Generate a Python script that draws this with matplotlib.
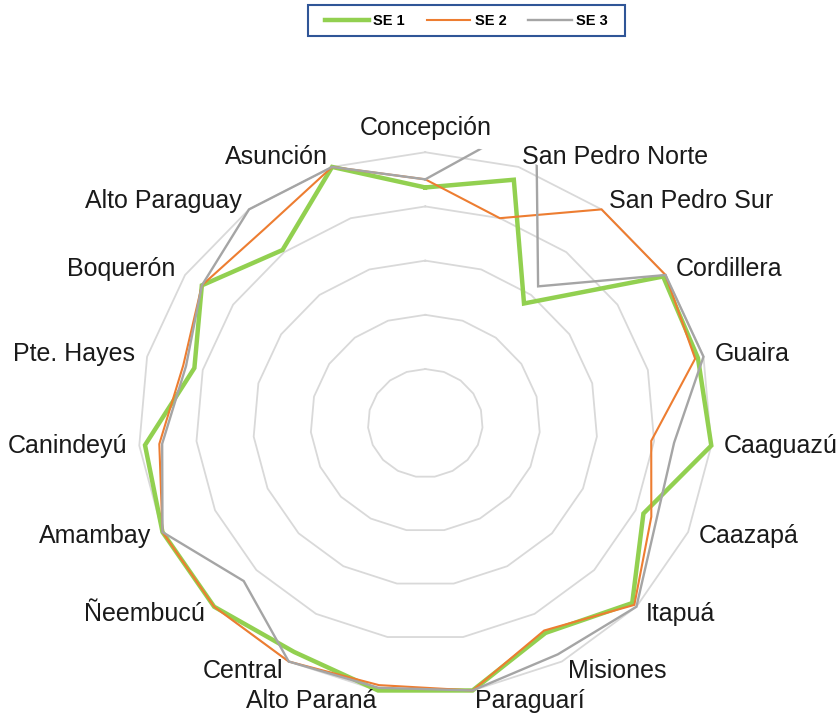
import numpy as np
import matplotlib
matplotlib.use("Agg")
import matplotlib.pyplot as plt
from matplotlib.lines import Line2D
from matplotlib.patches import Rectangle

plt.rcParams['font.family'] = ['Liberation Sans', 'DejaVu Sans']

# --- données ---
departamentos = ["Concepción", "San Pedro Norte", "San Pedro Sur", "Cordillera",
                 "Guaira", "Caaguazú", "Caazapá", "Itapuá", "Misiones",
                 "Paraguarí", "Alto Paraná", "Central", "Ñeembucú", "Amambay",
                 "Canindeyú", "Pte. Hayes", "Boquerón", "Alto Paraguay", "Asunción"]
se1 = [87, 95, 56, 99, 98, 100, 83, 98, 88, 100, 100, 96, 100, 100, 98, 83, 93, 81, 100]
se2 = [90, 80, 100, 100, 97, 79, 86, 99, 87, 100, 98, 100, 100, 100, 93, 87, 93, 91, 100]
se3 = [90, 119, 64, 100, 100, 87, 88, 100, 97, 100, 99, 100, 86, 100, 92, 86, 93, 100, 100]
series = ["SE 1", "SE 2", "SE 3"]
niveles = [20, 40, 60, 80, 100]

colores = ["#92D050", "#ED7D31", "#A5A5A5"]
grosor = [3.2, 1.5, 1.7]

fig = plt.figure(figsize=(8.4, 7.17), dpi=100)
ax = fig.add_axes([0.1544, 0.0205, 0.7038, 0.7785], projection='polar')
ax.set_aspect('auto')
ax.set_theta_zero_location('N')
ax.set_theta_direction(-1)

n = len(departamentos)
ang = np.linspace(0, 2 * np.pi, n, endpoint=False)
ang_c = np.append(ang, ang[0])

# anneaux polygonaux
for lv in niveles:
    ax.plot(ang_c, [lv] * (n + 1), color='#D9D9D9', lw=1.3, zorder=1)

for vals, nom, c, lw in zip([se1, se2, se3], series, colores, grosor):
    ax.plot(ang_c, vals + vals[:1], color=c, lw=lw, label=nom, zorder=3,
            solid_joinstyle='miter')

ax.set_ylim(0, 103)
ax.grid(False)
ax.set_xticks([])
ax.set_yticks([])
ax.spines['polar'].set_visible(False)

# étiquettes
for a, txt in zip(ang, departamentos):
    s, c = np.sin(a), np.cos(a)
    if abs(s) < 0.05:
        ha, va, off = 'center', 'bottom', (0, 12)
    else:
        ha = 'left' if s > 0 else 'right'
        va = 'center'
        off = (12 * s, 11 * c)
    ax.annotate(txt, xy=(a, 100), xytext=off, textcoords='offset pixels',
                ha=ha, va=va, fontsize=18, color='#1a1a1a', annotation_clip=False)

# légende
handles = [Line2D([], [], color=c, lw=lw) for c, lw in zip(colores, grosor)]
fig.legend(handles, series, loc='center', bbox_to_anchor=(466.5 / 840, 1 - 21 / 717),
           ncol=3, frameon=False, handlelength=3, handletextpad=0.3,
           columnspacing=1.5, prop={'weight': 'bold', 'size': 10.5})
fig.patches.append(Rectangle((308 / 840, 1 - 36 / 717), 317 / 840, 31 / 717,
                             transform=fig.transFigure, fill=False,
                             edgecolor='#2F5597', lw=1.5))

fig.savefig("out.png", dpi=100)
